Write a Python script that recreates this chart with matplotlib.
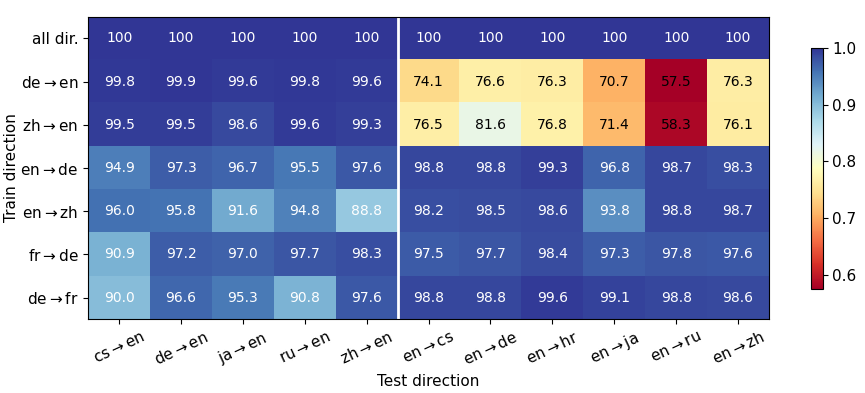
import numpy as np
import matplotlib.pyplot as plt

train_dirs = ['all dir.', 'de-en', 'zh-en', 'en-de', 'en-zh', 'fr-de', 'de-fr']
test_dirs = ['cs-en', 'de-en', 'ja-en', 'ru-en', 'zh-en',
             'en-cs', 'en-de', 'en-hr', 'en-ja', 'en-ru', 'en-zh']

row_all = [100, 100, 100, 100, 100, 100, 100, 100, 100, 100, 100]
row_de_en = [99.8, 99.9, 99.6, 99.8, 99.6, 74.1, 76.6, 76.3, 70.7, 57.5, 76.3]
row_zh_en = [99.5, 99.5, 98.6, 99.6, 99.3, 76.5, 81.6, 76.8, 71.4, 58.3, 76.1]
row_en_de = [94.9, 97.3, 96.7, 95.5, 97.6, 98.8, 98.8, 99.3, 96.8, 98.7, 98.3]
row_en_zh = [96.0, 95.8, 91.6, 94.8, 88.8, 98.2, 98.5, 98.6, 93.8, 98.8, 98.7]
row_fr_de = [90.9, 97.2, 97.0, 97.7, 98.3, 97.5, 97.7, 98.4, 97.3, 97.8, 97.6]
row_de_fr = [90.0, 96.6, 95.3, 90.8, 97.6, 98.8, 98.8, 99.6, 99.1, 98.8, 98.6]


def arrow_label(s):
    a, b = s.split('-')
    return a + r'$\rightarrow$' + b


scores = np.array([row_all, row_de_en, row_zh_en, row_en_de,
                   row_en_zh, row_fr_de, row_de_fr]) / 100.0

fig = plt.figure(figsize=(8.65, 3.93), dpi=100)
ax = fig.add_axes([0.102, 0.188, 0.787, 0.769])
cax = fig.add_axes([0.937, 0.265, 0.014, 0.613])

im = ax.imshow(scores, cmap='RdYlBu', vmin=scores.min(), vmax=1.0, aspect='auto')

for i in range(scores.shape[0]):
    for j in range(scores.shape[1]):
        v = scores[i, j] * 100
        txt = '100' if v == 100 else '%.1f' % v
        color = 'white' if scores[i, j] > 0.85 else 'black'
        ax.text(j, i, txt, ha='center', va='center', color=color, fontsize=10)

# split between x->en and en->x test directions
ax.axvline(4.5, color='white', linewidth=2)

ax.set_xticks(range(len(test_dirs)))
ax.set_xticklabels([arrow_label(t) for t in test_dirs], rotation=25,
                   ha='center', fontsize=11)
ax.set_yticks(range(len(train_dirs)))
ax.set_yticklabels([t if '-' not in t else arrow_label(t) for t in train_dirs],
                   fontsize=11)
ax.set_xlabel('Test direction', fontsize=11)
ax.set_ylabel('Train direction', fontsize=11, labelpad=1)

cb = fig.colorbar(im, cax=cax)
cb.set_ticks([0.6, 0.7, 0.8, 0.9, 1.0])
cb.ax.tick_params(labelsize=11)

fig.savefig('out.png', dpi=100)
